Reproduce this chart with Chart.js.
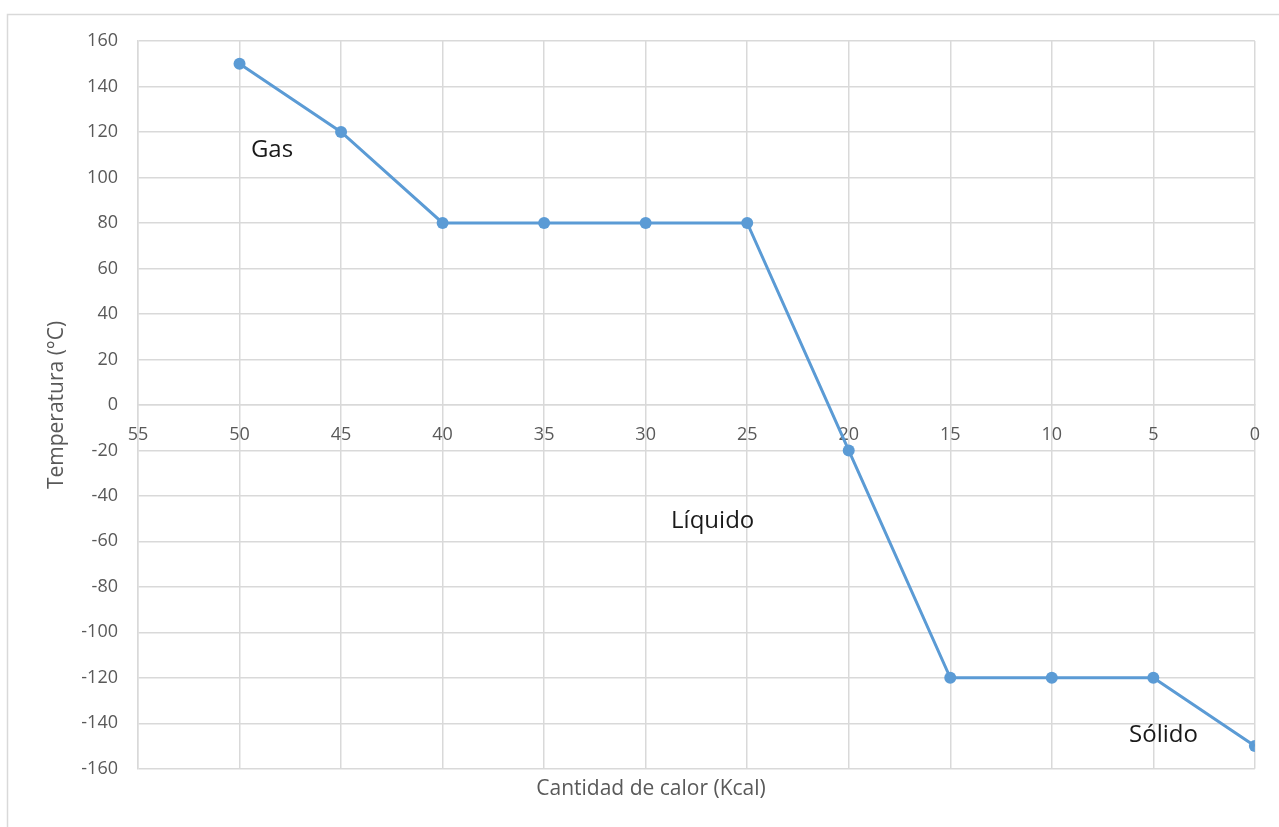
<!DOCTYPE html>
<html>
<head>
<meta charset="utf-8">
<script src="https://cdn.jsdelivr.net/npm/chart.js@4.4.1/dist/chart.umd.min.js"></script>
<style>
  html, body { margin: 0; padding: 0; background: #fff; }
  #wrap { width: 1279px; height: 827px; position: relative; }
</style>
</head>
<body>
<div id="wrap"><canvas id="chart"></canvas></div>
<script>
// data
const calor = [50, 45, 40, 35, 30, 25, 20, 15, 10, 5, 0];
const temperatura = [150, 120, 80, 80, 80, 80, -20, -120, -120, -120, -150];

// phase labels (text, x, y in data units)
const faseTexto = ["Gas", "Líquido", "Sólido"];
const faseX = [48.4, 26.7, 4.5];
const faseY = [112, -51, -145];

const gris = "#595959";
const rejilla = "#d9d9d9";
const azul = "#5b9bd5";

const puntos = calor.map((x, i) => ({x: x, y: temperatura[i]}));

// white background + outer frame
const marco = {
    id: 'marco',
    beforeDraw(chart) {
        const ctx = chart.ctx;
        ctx.save();
        ctx.fillStyle = "#fff";
        ctx.fillRect(0, 0, chart.width, chart.height);
        ctx.strokeStyle = "#d9d9d9";
        ctx.lineWidth = 1.5;
        ctx.strokeRect(7.5, 14.5, chart.width + 10, chart.height + 10);
        ctx.restore();
    }
};

// phase labels drawn at data positions
const fases = {
    id: 'fases',
    afterDatasetsDraw(chart) {
        const ctx = chart.ctx;
        const sx = chart.scales.x, sy = chart.scales.y;
        ctx.save();
        ctx.font = "24px 'Open Sans', sans-serif";
        ctx.fillStyle = "#1a1a1a";
        ctx.textAlign = "center";
        ctx.textBaseline = "middle";
        faseTexto.forEach((t, i) => {
            ctx.fillText(t, sx.getPixelForValue(faseX[i]), sy.getPixelForValue(faseY[i]));
        });
        ctx.restore();
    }
};

new Chart(document.getElementById('chart').getContext('2d'), {
    type: 'line',
    data: {
        datasets: [{
            data: puntos,
            borderColor: azul,
            backgroundColor: azul,
            borderWidth: 3,
            pointRadius: 6,
            pointBackgroundColor: azul,
            pointBorderWidth: 0,
            tension: 0,
            fill: false
        }]
    },
    options: {
        responsive: true,
        maintainAspectRatio: false,
        animation: false,
        layout: { padding: { top: 41, right: 15, left: 38, bottom: 0 } },
        plugins: {
            legend: { display: false },
            tooltip: { enabled: false },
            title: {
                display: true,
                position: 'bottom',
                text: 'Cantidad de calor (Kcal)',
                color: gris,
                font: { family: "'Open Sans', sans-serif", size: 21, weight: 'normal' },
                padding: { top: 8, bottom: 25 }
            }
        },
        scales: {
            x: {
                type: 'linear',
                reverse: true,
                min: 0,
                max: 55,
                position: { y: 0 },
                grid: { color: rejilla, lineWidth: 1.5, drawTicks: false },
                border: { color: rejilla, width: 1.5 },
                ticks: {
                    stepSize: 5,
                    color: gris,
                    padding: 19,
                    maxRotation: 0,
                    font: { family: "'Open Sans', sans-serif", size: 18 }
                }
            },
            y: {
                min: -160,
                max: 160,
                grid: { color: rejilla, lineWidth: 1.5, drawTicks: false },
                border: { color: rejilla, width: 1.5 },
                ticks: {
                    stepSize: 20,
                    color: gris,
                    padding: 20,
                    font: { family: "'Open Sans', sans-serif", size: 18 }
                },
                title: {
                    display: true,
                    text: 'Temperatura (°C)',
                    color: gris,
                    font: { family: "'Open Sans', sans-serif", size: 21 },
                    padding: { top: 6, bottom: 0 }
                },
                afterFit(scale) { scale.width = 100; }
            }
        }
    },
    plugins: [marco, fases]
});
</script>
</body>
</html>
